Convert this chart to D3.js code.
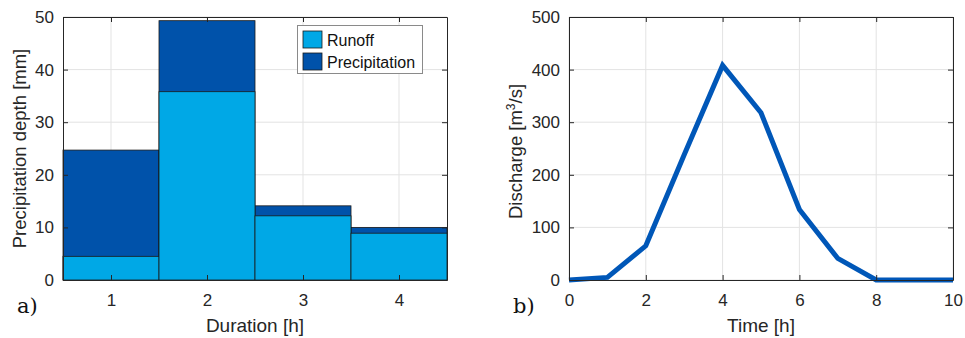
<!DOCTYPE html>
<html><head><meta charset="utf-8">
<script src="https://cdn.jsdelivr.net/npm/d3@7"></script>
<style>body{margin:0;background:#fff}svg{display:block;font-family:Arial,"Liberation Sans",sans-serif}</style>
</head><body><svg id="c" width="965" height="338"></svg>
<script>
const durations = [1, 2, 3, 4];
const runoff = [4.5, 35.8, 12.2, 8.9];
const precipitation = [24.7, 49.3, 14.1, 10.0];
const barTicks = [0, 10, 20, 30, 40, 50];
const times = [0, 1, 2, 3, 4, 5, 6, 7, 8, 9, 10];
const discharge = [0, 5, 65, 238, 408, 318, 134, 41, 0, 0, 0];
const timeTicks = [0, 2, 4, 6, 8, 10];
const qTicks = [0, 100, 200, 300, 400, 500];

const svg = d3.select("#c");
const axisCol = "#262626", gridCol = "#e3e3e3";
const cRun = "#00a8e6", cPre = "#0052aa", cLine = "#0057b8";

function frame(g, x, y, xt, yt, L, R, T, B) {
  g.append("g").selectAll("line").data(xt).join("line")
    .attr("x1", d => x(d)).attr("x2", d => x(d)).attr("y1", T).attr("y2", B)
    .attr("stroke", gridCol).attr("stroke-width", 1);
  g.append("g").selectAll("line").data(yt).join("line")
    .attr("x1", L).attr("x2", R).attr("y1", d => y(d)).attr("y2", d => y(d))
    .attr("stroke", gridCol).attr("stroke-width", 1);
}
function axes(g, x, y, xt, yt, L, R, T, B) {
  const fmt = d3.format("d");
  const ax = g.append("g").attr("transform", `translate(0,${B})`)
    .call(d3.axisBottom(x).tickValues(xt).tickFormat(fmt).tickSizeInner(-5).tickSizeOuter(0).tickPadding(14));
  const ay = g.append("g").attr("transform", `translate(${L},0)`)
    .call(d3.axisLeft(y).tickValues(yt).tickFormat(fmt).tickSizeInner(-5).tickSizeOuter(0).tickPadding(9));
  const at = g.append("g").attr("transform", `translate(0,${T})`)
    .call(d3.axisTop(x).tickValues(xt).tickSizeInner(-5).tickSizeOuter(0).tickFormat(""));
  const ar = g.append("g").attr("transform", `translate(${R},0)`)
    .call(d3.axisRight(y).tickValues(yt).tickSizeInner(-5).tickSizeOuter(0).tickFormat(""));
  [ax, ay, at, ar].forEach(a => {
    a.select(".domain").attr("stroke", axisCol).attr("stroke-width", 1);
    a.selectAll(".tick line").attr("stroke", axisCol);
    a.selectAll("text").attr("fill", axisCol).style("font-size", "17px").style("font-family", "Arial, 'Liberation Sans', sans-serif");
  });
}

// Panel a
{
  const L = 63, R = 447, T = 17, B = 280;
  const g = svg.append("g");
  const x = d3.scaleLinear().domain([0.5, 4.5]).range([L, R]);
  const y = d3.scaleLinear().domain([0, 50]).range([B, T]);
  frame(g, x, y, durations, barTicks, L, R, T, B);
  g.append("g").selectAll("rect").data(durations).join("rect")
    .attr("x", d => x(d - 0.5)).attr("width", d => x(d + 0.5) - x(d - 0.5))
    .attr("y", (d, i) => y(precipitation[i])).attr("height", (d, i) => B - y(precipitation[i]))
    .attr("fill", cPre).attr("stroke", "#1a1a1a").attr("stroke-width", 0.8);
  g.append("g").selectAll("rect").data(durations).join("rect")
    .attr("x", d => x(d - 0.5)).attr("width", d => x(d + 0.5) - x(d - 0.5))
    .attr("y", (d, i) => y(runoff[i])).attr("height", (d, i) => B - y(runoff[i]))
    .attr("fill", cRun).attr("stroke", "#1a1a1a").attr("stroke-width", 0.8);
  axes(g, x, y, durations, barTicks, L, R, T, B);
  const lg = g.append("g");
  lg.append("rect").attr("x", 297.5).attr("y", 25.5).attr("width", 125).attr("height", 48)
    .attr("fill", "#fff").attr("stroke", "#8a8a8a").attr("stroke-width", 1);
  [["Runoff", cRun], ["Precipitation", cPre]].forEach((e, i) => {
    lg.append("rect").attr("x", 303).attr("y", 31 + i * 22).attr("width", 19).attr("height", 17)
      .attr("fill", e[1]).attr("stroke", "#1a1a1a").attr("stroke-width", 0.8);
    lg.append("text").attr("x", 327).attr("y", 45.5 + i * 22).text(e[0])
      .attr("fill", "#111").style("font-size", "16px");
  });
  g.append("text").attr("transform", `translate(26,${(T + B) / 2}) rotate(-90)`)
    .attr("text-anchor", "middle").attr("fill", axisCol).style("font-size", "18.5px")
    .text("Precipitation depth [mm]");
  g.append("text").attr("x", 255).attr("y", 332).attr("text-anchor", "middle")
    .attr("fill", axisCol).style("font-size", "19px").text("Duration [h]");
  g.append("text").attr("x", 17).attr("y", 313).attr("fill", "#111")
    .style("font-family", "'DejaVu Serif', 'Liberation Serif', serif").style("font-size", "21px").text("a)");
}

// Panel b
{
  const L = 569, R = 953, T = 17, B = 280;
  const g = svg.append("g");
  const x = d3.scaleLinear().domain([0, 10]).range([L, R]);
  const y = d3.scaleLinear().domain([0, 500]).range([B, T]);
  frame(g, x, y, timeTicks, qTicks, L, R, T, B);
  g.append("path").datum(times)
    .attr("d", d3.line().x(d => x(d)).y((d, i) => y(discharge[i])))
    .attr("fill", "none").attr("stroke", cLine).attr("stroke-width", 5)
    .attr("stroke-linejoin", "miter");
  axes(g, x, y, timeTicks, qTicks, L, R, T, B);
  const t = g.append("text").attr("transform", `translate(522,${(T + B) / 2 + 3}) rotate(-90)`)
    .attr("text-anchor", "middle").attr("fill", axisCol).style("font-size", "18.5px");
  t.append("tspan").text("Discharge [m");
  t.append("tspan").attr("dy", -7).style("font-size", "12px").text("3");
  t.append("tspan").attr("dy", 7).text("/s]");
  g.append("text").attr("x", 761).attr("y", 332).attr("text-anchor", "middle")
    .attr("fill", axisCol).style("font-size", "19px").text("Time [h]");
  g.append("text").attr("x", 513).attr("y", 313).attr("fill", "#111")
    .style("font-family", "'DejaVu Serif', 'Liberation Serif', serif").style("font-size", "21px").text("b)");
}
</script></body></html>
